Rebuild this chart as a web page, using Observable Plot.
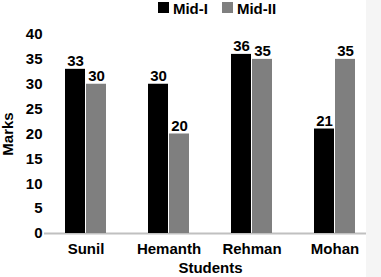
<!DOCTYPE html>
<html><head><meta charset="utf-8">
<script src="https://cdn.jsdelivr.net/npm/d3@7"></script>
<script src="https://cdn.jsdelivr.net/npm/@observablehq/plot@0.6"></script>
<style>
body{margin:0;background:#fff;}
#wrap{position:relative;width:381px;height:277px;overflow:hidden;font-family:"Liberation Sans",Arial,sans-serif;font-weight:bold;color:#000;}
#legend{height:17px;display:flex;justify-content:center;align-items:flex-start;padding-left:53px;box-sizing:border-box;width:381px;}
.item{display:flex;align-items:flex-start;margin:0 7px;}
.sw{width:11px;height:11px;margin-top:2px;margin-right:4px;}
.lt{font-size:15px;line-height:17px;}
#strip{position:absolute;left:366px;top:0;width:15px;height:277px;background:#f5f5f5;}
</style></head>
<body>
<div id="wrap">
  <div id="legend"></div>
  <div id="chart"></div>
  <div id="strip"></div>
</div>
<script>
const students = ["Sunil", "Hemanth", "Rehman", "Mohan"];
const series = ["Mid-I", "Mid-II"];
const midI = [33, 30, 36, 21];
const midII = [30, 20, 35, 35];
const colors = ["#000000", "#7f7f7f"];
const yTicks = [0, 5, 10, 15, 20, 25, 30, 35, 40];

const data = students.flatMap((s, i) => [
  {student: s, exam: series[0], marks: midI[i]},
  {student: s, exam: series[1], marks: midII[i]}
]);

const legend = document.getElementById("legend");
series.forEach((s, i) => {
  const it = document.createElement("div");
  it.className = "item";
  const sw = document.createElement("div");
  sw.className = "sw";
  sw.style.background = colors[i];
  const t = document.createElement("span");
  t.className = "lt";
  t.textContent = s;
  it.appendChild(sw); it.appendChild(t);
  legend.appendChild(it);
});

const chart = Plot.plot({
  width: 381,
  height: 260,
  marginTop: 17,
  marginBottom: 44,
  marginLeft: 44,
  marginRight: 5,
  style: {fontFamily: '"Liberation Sans", Arial, sans-serif', fontWeight: "bold", fontSize: "15px", color: "#000", background: "transparent", overflow: "visible"},
  fx: {domain: students, padding: 0},
  x: {domain: series, paddingInner: 1 / 21, paddingOuter: 1, axis: null},
  y: {domain: [0, 40]},
  color: {domain: series, range: colors},
  marks: [
    Plot.ruleY([0], {stroke: "#c0c0c0", strokeWidth: 2}),
    Plot.barY(data, {fx: "student", x: "exam", y: "marks", fill: "exam"}),
    Plot.text(data, {fx: "student", x: "exam", y: "marks", text: d => String(d.marks), lineAnchor: "bottom", dy: -3}),
    Plot.axisY(yTicks, {tickSize: 0, tickPadding: 2, label: "Marks", labelAnchor: "center", labelOffset: 42, labelArrow: "none"}),
    Plot.axisFx({anchor: "bottom", tickSize: 0, tickPadding: 10, label: "Students", labelAnchor: "center", labelOffset: 39, labelArrow: "none"})
  ]
});
document.getElementById("chart").appendChild(chart);
</script>
</body></html>
